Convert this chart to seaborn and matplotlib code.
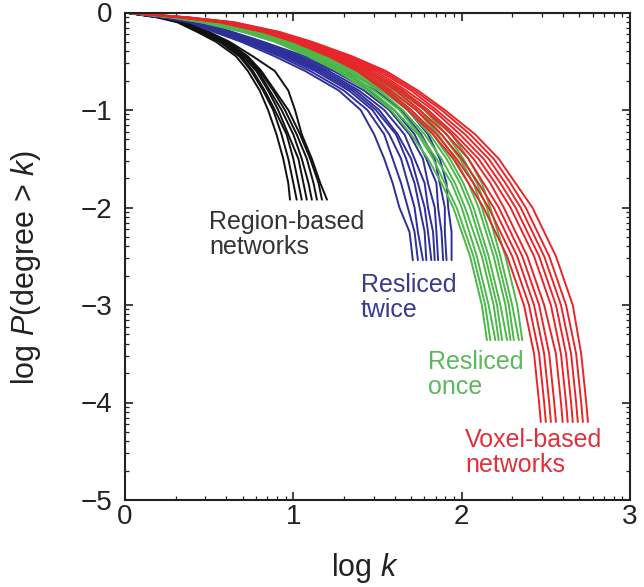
import matplotlib
matplotlib.use("Agg")
import matplotlib.pyplot as plt
import seaborn as sns
import numpy as np
import pandas as pd
from matplotlib.ticker import FixedLocator

# Cumulative degree distributions: log P(degree > k) versus log k.
# Each network is stored as the log k reached at a shared set of log P levels.

region_levels = [0, -0.05, -0.1, -0.2, -0.3, -0.45, -0.6, -0.8, -1.0, -1.25, -1.5, -1.75, -1.92]
region_curves = [
    [0, 0.19, 0.31, 0.43, 0.54, 0.66, 0.73, 0.80, 0.85, 0.90, 0.94, 0.97, 0.98],
    [0, 0.20, 0.32, 0.44, 0.56, 0.68, 0.75, 0.82, 0.88, 0.93, 0.97, 1.00, 1.02],
    [0, 0.20, 0.33, 0.45, 0.57, 0.69, 0.76, 0.83, 0.89, 0.96, 1.00, 1.03, 1.05],
    [0, 0.21, 0.34, 0.46, 0.58, 0.70, 0.78, 0.85, 0.91, 0.97, 1.03, 1.06, 1.08],
    [0, 0.21, 0.34, 0.47, 0.59, 0.71, 0.79, 0.86, 0.93, 1.00, 1.05, 1.09, 1.11],
    [0, 0.22, 0.35, 0.48, 0.60, 0.72, 0.80, 0.88, 0.95, 1.02, 1.08, 1.12, 1.14],
    [0, 0.22, 0.36, 0.49, 0.61, 0.73, 0.81, 0.89, 0.97, 1.04, 1.10, 1.15, 1.17],
    [0, 0.23, 0.36, 0.50, 0.62, 0.76, 0.89, 0.97, 1.01, 1.05, 1.11, 1.16, 1.20],
]

twice_levels = [0, -0.05, -0.1, -0.2, -0.3, -0.45, -0.6, -0.8, -1.0, -1.25, -1.5, -1.75, -2.0, -2.25, -2.54]
twice_curves = [
    [0, 0.22, 0.38, 0.53, 0.69, 0.89, 1.07, 1.27, 1.40, 1.48, 1.54, 1.59, 1.63, 1.69, 1.71],
    [0, 0.23, 0.39, 0.55, 0.71, 0.92, 1.10, 1.30, 1.44, 1.54, 1.59, 1.64, 1.68, 1.72, 1.74],
    [0, 0.24, 0.40, 0.56, 0.73, 0.94, 1.13, 1.33, 1.47, 1.57, 1.64, 1.68, 1.72, 1.74, 1.77],
    [0, 0.24, 0.41, 0.57, 0.74, 0.96, 1.15, 1.35, 1.49, 1.61, 1.67, 1.72, 1.75, 1.78, 1.79],
    [0, 0.25, 0.42, 0.58, 0.75, 0.97, 1.17, 1.37, 1.51, 1.62, 1.70, 1.74, 1.78, 1.80, 1.82],
    [0, 0.25, 0.43, 0.59, 0.76, 0.99, 1.19, 1.39, 1.54, 1.66, 1.72, 1.78, 1.80, 1.83, 1.84],
    [0, 0.26, 0.44, 0.60, 0.78, 1.00, 1.21, 1.42, 1.57, 1.69, 1.77, 1.80, 1.84, 1.85, 1.86],
    [0, 0.26, 0.44, 0.61, 0.79, 1.02, 1.24, 1.45, 1.60, 1.72, 1.79, 1.85, 1.86, 1.88, 1.89],
    [0, 0.27, 0.45, 0.62, 0.80, 1.04, 1.27, 1.49, 1.64, 1.76, 1.84, 1.87, 1.90, 1.90, 1.91],
    [0, 0.28, 0.46, 0.64, 0.82, 1.07, 1.31, 1.53, 1.68, 1.80, 1.87, 1.91, 1.92, 1.94, 1.94],
]

once_levels = [0, -0.05, -0.1, -0.2, -0.3, -0.45, -0.6, -0.8, -1.0, -1.25, -1.5, -1.75, -2.0, -2.5, -3.0, -3.36]
once_curves = [
    [0, 0.27, 0.45, 0.70, 0.89, 1.09, 1.26, 1.44, 1.58, 1.70, 1.80, 1.88, 1.95, 2.05, 2.12, 2.15],
    [0, 0.28, 0.46, 0.71, 0.90, 1.11, 1.28, 1.46, 1.60, 1.74, 1.83, 1.90, 1.97, 2.07, 2.14, 2.17],
    [0, 0.28, 0.47, 0.72, 0.91, 1.13, 1.30, 1.48, 1.63, 1.75, 1.85, 1.94, 2.00, 2.09, 2.16, 2.20],
    [0, 0.29, 0.48, 0.73, 0.93, 1.14, 1.32, 1.51, 1.65, 1.78, 1.88, 1.96, 2.02, 2.12, 2.19, 2.22],
    [0, 0.30, 0.49, 0.74, 0.94, 1.16, 1.34, 1.53, 1.68, 1.81, 1.91, 1.99, 2.05, 2.14, 2.21, 2.24],
    [0, 0.30, 0.50, 0.76, 0.96, 1.18, 1.36, 1.55, 1.70, 1.83, 1.93, 2.01, 2.07, 2.16, 2.23, 2.27],
    [0, 0.31, 0.51, 0.77, 0.97, 1.20, 1.38, 1.57, 1.73, 1.86, 1.96, 2.04, 2.10, 2.19, 2.26, 2.29],
    [0, 0.32, 0.52, 0.78, 0.99, 1.22, 1.40, 1.60, 1.75, 1.88, 1.99, 2.07, 2.12, 2.21, 2.28, 2.31],
    [0, 0.32, 0.53, 0.79, 1.00, 1.23, 1.42, 1.62, 1.78, 1.91, 2.01, 2.09, 2.15, 2.23, 2.30, 2.34],
    [0, 0.33, 0.54, 0.81, 1.02, 1.25, 1.44, 1.64, 1.80, 1.94, 2.04, 2.12, 2.17, 2.26, 2.33, 2.36],
]

voxel_levels = [0, -0.05, -0.1, -0.2, -0.3, -0.45, -0.6, -0.8, -1.0, -1.25, -1.5, -1.75, -2.0, -2.5, -3.0, -3.5, -4.0, -4.2]
voxel_curves = [
    [0, 0.32, 0.56, 0.82, 1.00, 1.21, 1.38, 1.54, 1.68, 1.83, 1.95, 2.04, 2.13, 2.27, 2.37, 2.43, 2.46, 2.47],
    [0, 0.33, 0.57, 0.83, 1.01, 1.23, 1.39, 1.56, 1.70, 1.85, 1.97, 2.07, 2.16, 2.30, 2.40, 2.46, 2.49, 2.50],
    [0, 0.33, 0.58, 0.84, 1.02, 1.24, 1.41, 1.58, 1.73, 1.88, 2.00, 2.10, 2.19, 2.33, 2.43, 2.49, 2.52, 2.53],
    [0, 0.34, 0.59, 0.85, 1.03, 1.26, 1.43, 1.61, 1.75, 1.91, 2.04, 2.13, 2.22, 2.36, 2.46, 2.52, 2.55, 2.56],
    [0, 0.35, 0.60, 0.87, 1.04, 1.27, 1.45, 1.63, 1.78, 1.94, 2.07, 2.17, 2.25, 2.39, 2.49, 2.56, 2.59, 2.60],
    [0, 0.35, 0.61, 0.88, 1.06, 1.29, 1.47, 1.65, 1.80, 1.96, 2.10, 2.20, 2.29, 2.43, 2.53, 2.59, 2.62, 2.63],
    [0, 0.36, 0.62, 0.89, 1.07, 1.30, 1.49, 1.67, 1.83, 1.99, 2.13, 2.23, 2.32, 2.46, 2.56, 2.62, 2.65, 2.66],
    [0, 0.37, 0.63, 0.90, 1.08, 1.32, 1.51, 1.70, 1.85, 2.02, 2.16, 2.26, 2.35, 2.49, 2.59, 2.65, 2.68, 2.69],
    [0, 0.37, 0.64, 0.91, 1.09, 1.34, 1.53, 1.72, 1.88, 2.05, 2.19, 2.29, 2.38, 2.52, 2.62, 2.68, 2.71, 2.72],
    [0, 0.38, 0.65, 0.92, 1.11, 1.35, 1.55, 1.74, 1.90, 2.08, 2.22, 2.32, 2.42, 2.56, 2.66, 2.71, 2.74, 2.75],
]

group_names = ["Region-based", "Resliced twice", "Resliced once", "Voxel-based"]
group_colors = ["#111111", "#2f2f9c", "#4bb848", "#e8262a"]
label_texts = ["Region-based\nnetworks", "Resliced\ntwice", "Resliced\nonce", "Voxel-based\nnetworks"]
label_colors = ["#333333", "#39398f", "#5cb85c", "#e0303c"]
label_pos = [(0.50, -2.03), (1.40, -2.67), (1.80, -3.46), (2.02, -4.26)]

# Long-form table: one row per point, one unit per network
rows = []
groups = [
    (region_levels, region_curves),
    (twice_levels, twice_curves),
    (once_levels, once_curves),
    (voxel_levels, voxel_curves),
]
for name, (levels, curves) in zip(group_names, groups):
    for i, xs in enumerate(curves):
        for x, y in zip(xs, levels):
            rows.append({"logk": x, "logP": y, "group": name, "net": f"{name}-{i}"})
df = pd.DataFrame(rows)

sns.set_theme(style="ticks")
plt.rcParams["font.family"] = ["Liberation Sans", "DejaVu Sans"]
plt.rcParams["mathtext.fontset"] = "custom"
plt.rcParams["mathtext.rm"] = "Liberation Sans"
plt.rcParams["mathtext.it"] = "Liberation Sans:italic"

fig = plt.figure(figsize=(6.44, 5.87), dpi=100)
ax = fig.add_axes([125 / 644, 1 - 500 / 587, 505 / 644, 487.5 / 587])

sns.lineplot(
    data=df, x="logk", y="logP", hue="group", units="net", estimator=None,
    sort=False, hue_order=group_names, palette=group_colors, linewidth=1.4,
    legend=False, ax=ax,
)

for txt, col, (tx, ty) in zip(label_texts, label_colors, label_pos):
    ax.text(tx, ty, txt, color=col, fontsize=18, ha="left", va="top", linespacing=1.05)

ax.set_xlim(0, 3)
ax.set_ylim(-5, 0)
ax.set_xticks([0, 1, 2, 3])
ax.set_yticks([0, -1, -2, -3, -4, -5])
ax.set_xticklabels(["0", "1", "2", "3"])
ax.set_yticklabels(["0", "\u22121", "\u22122", "\u22123", "\u22124", "\u22125"])

# Minor ticks at log10 of 2..9 within each decade
n = np.arange(2, 10)
xminor = [d + v for d in range(0, 3) for v in np.log10(n)]
yminor = [d + v for d in range(-5, 0) for v in np.log10(n)]
ax.xaxis.set_minor_locator(FixedLocator(xminor))
ax.yaxis.set_minor_locator(FixedLocator(yminor))

ax.tick_params(which="both", direction="in", top=True, right=True, colors="#222222",
               labelcolor="#222222", labelsize=20)
ax.tick_params(axis="y", which="major", pad=9)
ax.tick_params(axis="x", which="major", pad=3)
ax.tick_params(which="major", length=6, width=1.2)
ax.tick_params(which="minor", length=3, width=0.9)
for s in ax.spines.values():
    s.set_linewidth(1.5)
    s.set_color("#222222")

ax.set_xlabel("log $\\mathit{k}$", fontsize=22, color="#222222")
ax.set_ylabel("log $\\mathit{P}$(degree > $\\mathit{k}$)", fontsize=22, color="#222222")
ax.xaxis.set_label_coords(0.475, -0.105)
ax.yaxis.set_label_coords(-0.163, 0.476)

fig.savefig("out.png", dpi=100)
